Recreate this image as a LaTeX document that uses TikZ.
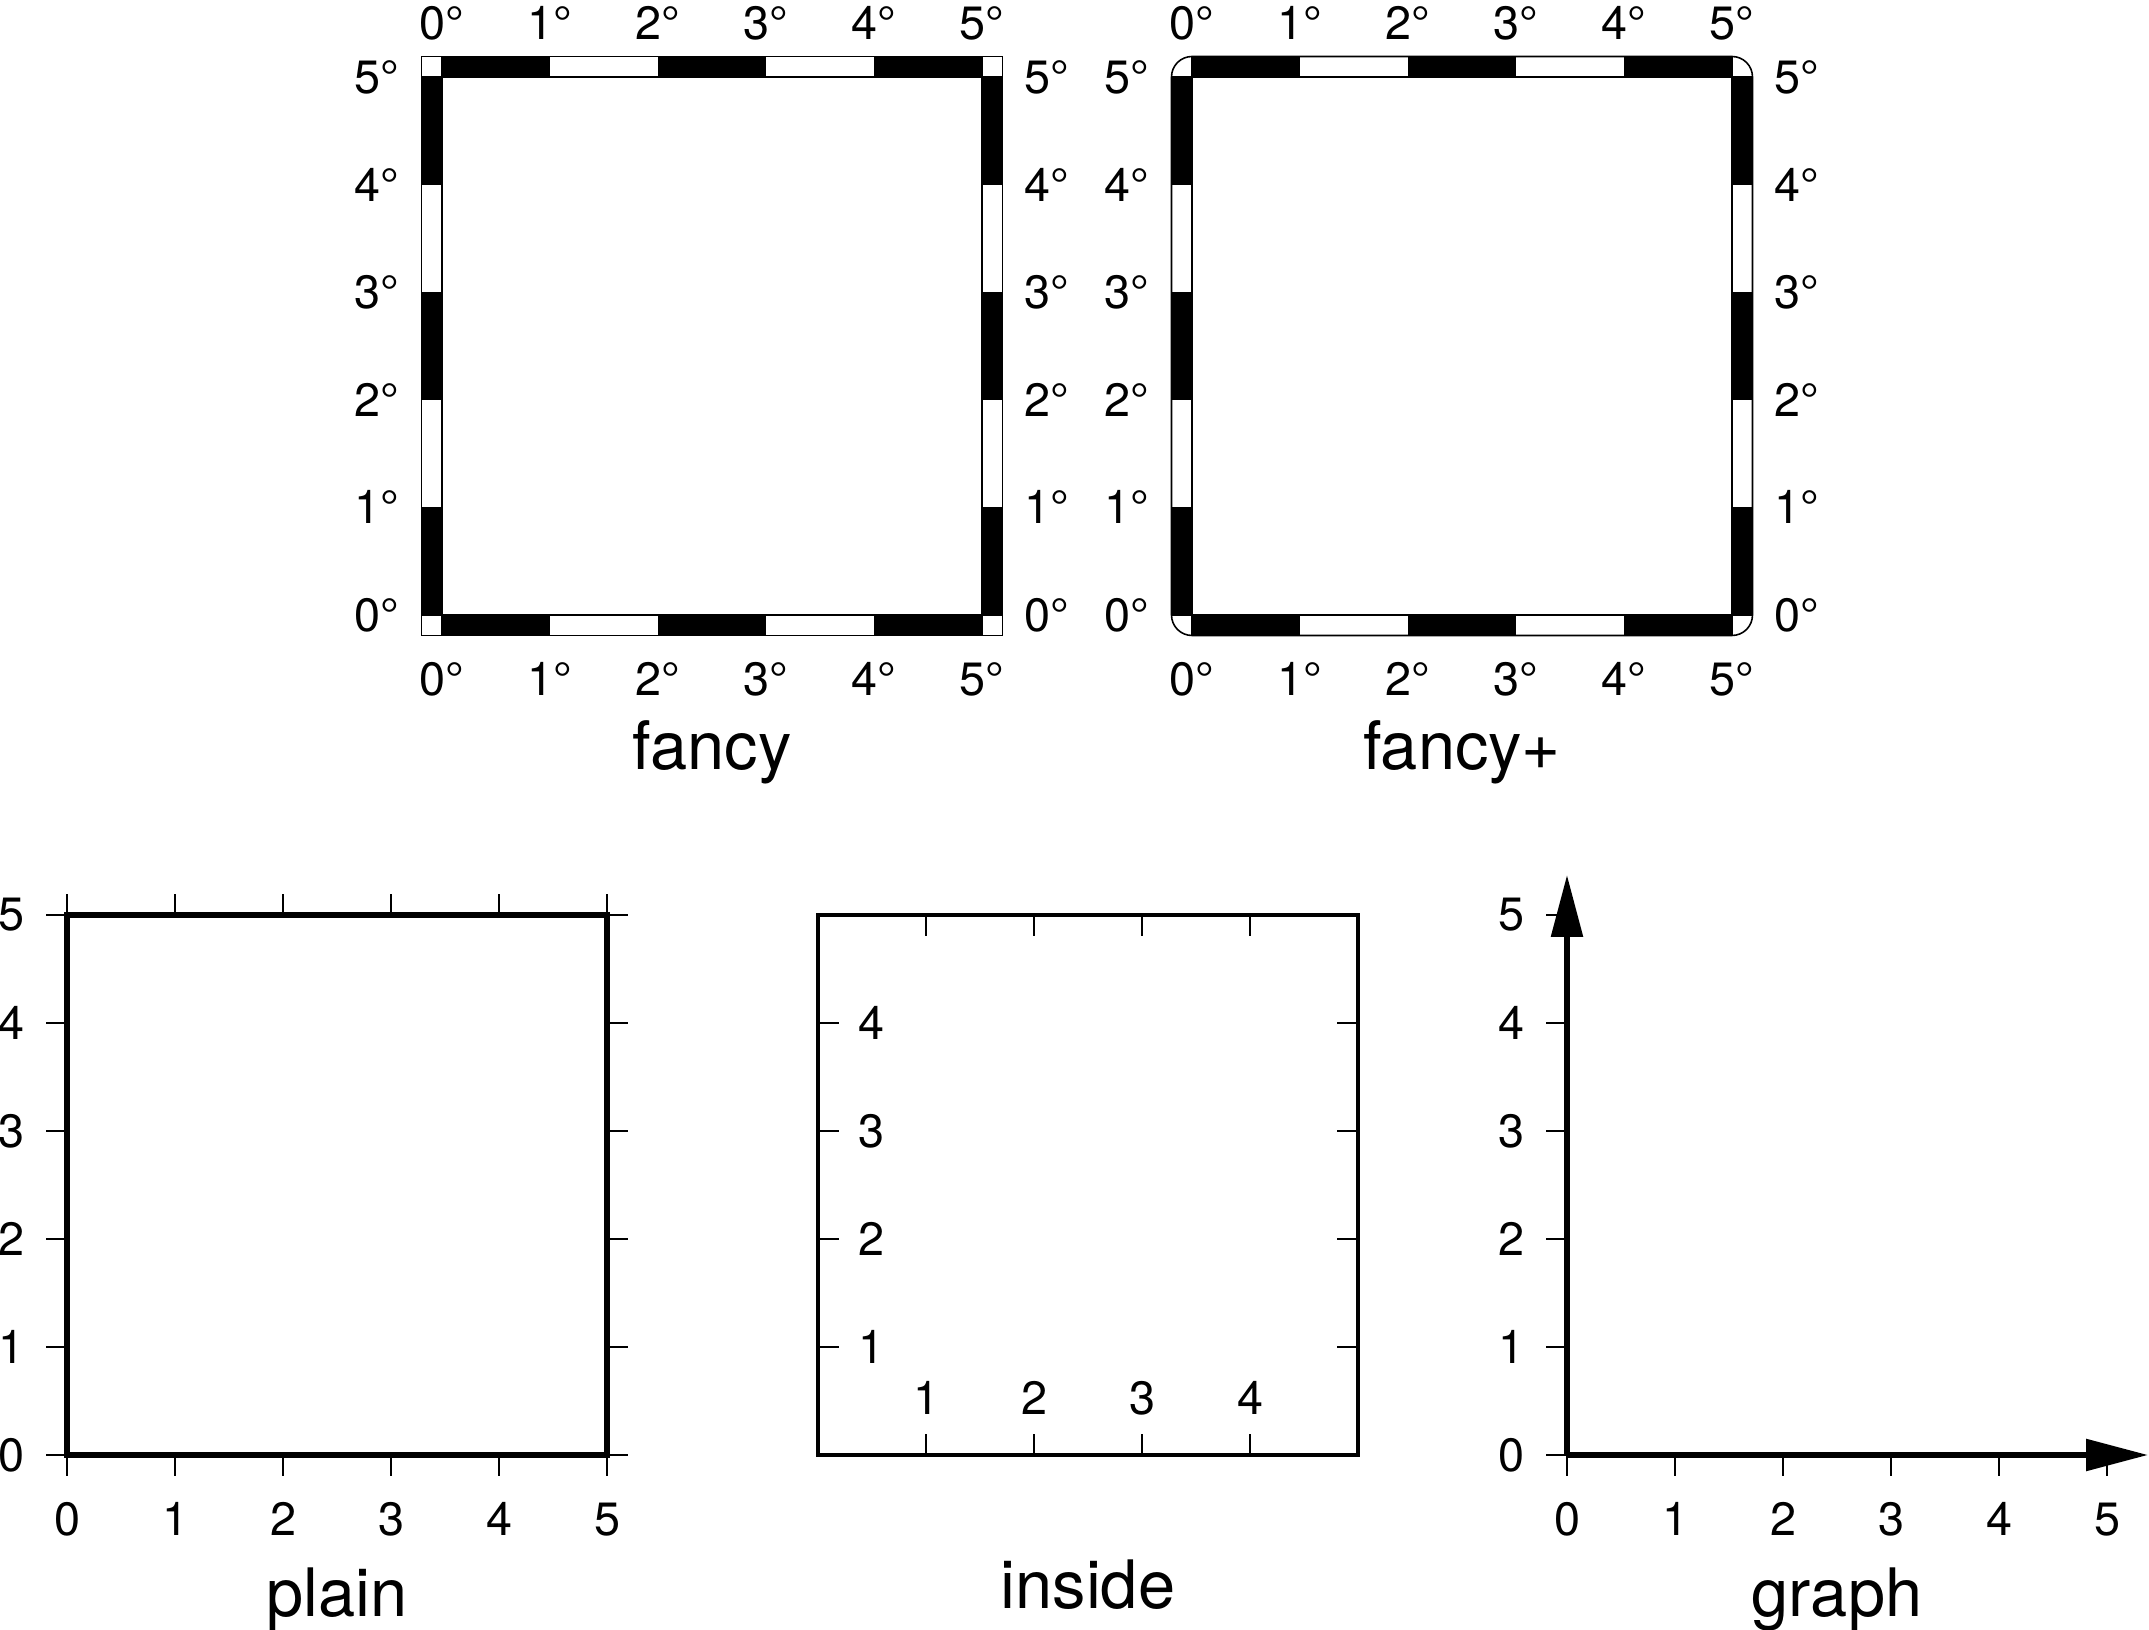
\documentclass[tikz,border=0pt]{standalone}
\usepackage{fontspec}
\setmainfont{TeX Gyre Heros}
\usetikzlibrary{arrows.meta}

\tikzset{
  ticklabel/.style={font=\fontsize{13.3}{16}\selectfont, inner sep=0pt},
  maptitle/.style={font=\fontsize{19}{23}\selectfont, inner sep=0pt, anchor=base},
  band/.style={line width=0.45pt},
  ticks/.style={line width=0.65pt},
  axisline/.style={line width=1.6pt},
  tip/.style={-{Triangle[length=6.2mm,width=3.1mm]}}
}
\def\bw{2.05mm}

\begin{document}
\begin{tikzpicture}
  \useasboundingbox (0,0) rectangle (21.49,16.30);

  % fancy
  \begin{scope}[shift={(4.42,10.15)}, x=1.08cm, y=1.076cm]
    \foreach \i in {0,2,4} {
      \fill ([yshift=-\bw]\i,0) rectangle (\i+1,0);
      \fill (\i,5) rectangle ([yshift=\bw]\i+1,5);
      \fill ([xshift=-\bw]0,\i) rectangle (0,\i+1);
      \fill (5,\i) rectangle ([xshift=\bw]5,\i+1);
    }
    \draw[band] ([xshift=-\bw,yshift=-\bw]0,0) rectangle ([xshift=\bw,yshift=\bw]5,5);
    \draw[band] ([xshift=-\bw]0,0) -- ([xshift=\bw]5,0);
    \draw[band] ([xshift=-\bw]0,5) -- ([xshift=\bw]5,5);
    \draw[band] ([yshift=-\bw]0,0) -- ([yshift=\bw]0,5);
    \draw[band] ([yshift=-\bw]5,0) -- ([yshift=\bw]5,5);
    \foreach \i in {0,...,5} {
      \node[ticklabel, anchor=base] (fbot\i) at ([yshift=-8.1mm]\i,0) {\i°};
      \node[ticklabel, anchor=base] (ftop\i) at ([yshift=3.7mm]\i,5) {\i°};
      \node[ticklabel, anchor=east] (fleft\i) at ([xshift=-4.2mm]0,\i) {\i°};
      \node[ticklabel, anchor=west] (fright\i) at ([xshift=4.2mm]5,\i) {\i°};
    }
    \node[maptitle] (tfancy) at ([yshift=-15.5mm]2.5,0) {fancy};
  \end{scope}

  % fancy+
  \begin{scope}[shift={(11.92,10.15)}, x=1.08cm, y=1.076cm]
    \foreach \i in {0,2,4} {
      \fill ([yshift=-\bw]\i,0) rectangle (\i+1,0);
      \fill (\i,5) rectangle ([yshift=\bw]\i+1,5);
      \fill ([xshift=-\bw]0,\i) rectangle (0,\i+1);
      \fill (5,\i) rectangle ([xshift=\bw]5,\i+1);
    }
    \draw[band, rounded corners=\bw] ([xshift=-\bw,yshift=-\bw]0,0) rectangle ([xshift=\bw,yshift=\bw]5,5);
    \draw[band] ([xshift=-\bw]0,0) -- ([xshift=\bw]5,0);
    \draw[band] ([xshift=-\bw]0,5) -- ([xshift=\bw]5,5);
    \draw[band] ([yshift=-\bw]0,0) -- ([yshift=\bw]0,5);
    \draw[band] ([yshift=-\bw]5,0) -- ([yshift=\bw]5,5);
    \foreach \i in {0,...,5} {
      \node[ticklabel, anchor=base] (gbot\i) at ([yshift=-8.1mm]\i,0) {\i°};
      \node[ticklabel, anchor=base] (gtop\i) at ([yshift=3.7mm]\i,5) {\i°};
      \node[ticklabel, anchor=east] (gleft\i) at ([xshift=-4.2mm]0,\i) {\i°};
      \node[ticklabel, anchor=west] (gright\i) at ([xshift=4.2mm]5,\i) {\i°};
    }
    \node[maptitle] (tfancyplus) at ([yshift=-15.5mm]2.5,0) {fancy+};
  \end{scope}

  % plain
  \begin{scope}[shift={(0.67,1.75)}, x=1.08cm, y=1.08cm]
    \foreach \i in {0,...,5} {
      \draw[ticks] (\i,0) -- ([yshift=-2.1mm]\i,0);
      \draw[ticks] (\i,5) -- ([yshift=2.1mm]\i,5);
      \draw[ticks] (0,\i) -- ([xshift=-2.1mm]0,\i);
      \draw[ticks] (5,\i) -- ([xshift=2.1mm]5,\i);
      \node[ticklabel, anchor=base] (pbot\i) at ([yshift=-8.1mm]\i,0) {\i};
      \node[ticklabel, anchor=east] (pleft\i) at ([xshift=-4.2mm]0,\i) {\i};
    }
    \draw[line width=1.85pt] (0,0) rectangle (5,5);
    \node[maptitle] (tplain) at ([yshift=-16.2mm]2.5,0) {plain};
  \end{scope}

  % inside
  \begin{scope}[shift={(8.18,1.75)}, x=1.08cm, y=1.08cm]
    \draw[line width=1.4pt] (0,0) rectangle (5,5);
    \foreach \i in {1,...,4} {
      \draw[ticks] (\i,0) -- ([yshift=2.1mm]\i,0);
      \draw[ticks] (\i,5) -- ([yshift=-2.1mm]\i,5);
      \draw[ticks] (0,\i) -- ([xshift=2.1mm]0,\i);
      \draw[ticks] (5,\i) -- ([xshift=-2.1mm]5,\i);
      \node[ticklabel, anchor=base] (ibot\i) at ([yshift=4mm]\i,0) {\i};
      \node[ticklabel, anchor=west] (ileft\i) at ([xshift=4mm]0,\i) {\i};
    }
    \node[maptitle] (tinside) at ([yshift=-15.4mm]2.5,0) {inside};
  \end{scope}

  % graph
  \begin{scope}[shift={(15.67,1.75)}, x=1.08cm, y=1.08cm]
    \foreach \i in {0,...,5} {
      \draw[ticks] (\i,0) -- ([yshift=-2.1mm]\i,0);
      \draw[ticks] (0,\i) -- ([xshift=-2.1mm]0,\i);
      \node[ticklabel, anchor=base] (abot\i) at ([yshift=-8.1mm]\i,0) {\i};
      \node[ticklabel, anchor=east] (aleft\i) at ([xshift=-4.2mm]0,\i) {\i};
    }
    \draw[axisline, tip] (0,0) -- ([yshift=4mm]0,5);
    \draw[axisline, tip] (0,0) -- ([xshift=4.1mm]5,0);
    \node[maptitle] (tgraph) at ([yshift=-16.2mm]2.5,0) {graph};
  \end{scope}
\end{tikzpicture}
\end{document}
